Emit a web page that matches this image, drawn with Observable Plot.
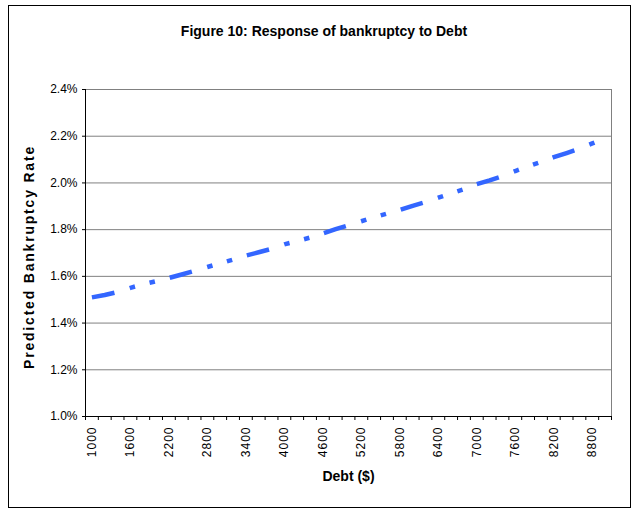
<!DOCTYPE html>
<html>
<head>
<meta charset="utf-8">
<script src="https://cdn.jsdelivr.net/npm/d3@7"></script>
<script src="https://cdn.jsdelivr.net/npm/@observablehq/plot@0.6"></script>
<style>
  html, body { margin: 0; padding: 0; background: #fff; }
  body { width: 636px; height: 510px; position: relative; overflow: hidden;
         font-family: "Liberation Sans", Arial, sans-serif; }
  #frame { position: absolute; left: 8px; top: 5px; width: 623px; height: 503px;
           border: 1px solid #000; box-sizing: border-box; }
  #title { position: absolute; left: 6px; top: 22px; width: 636px; text-align: center;
           font-weight: bold; font-size: 14px; line-height: 18px; color: #000; }
  #chart { position: absolute; left: 0; top: 50px; }
  #chart g[aria-label="x-axis tick label"] text { letter-spacing: 1px; }
</style>
</head>
<body>
<div id="frame"></div>
<div id="title">Figure 10: Response of bankruptcy to Debt</div>
<div id="chart"></div>
<script>
// Debt categories ($)
const debt = [1000, 1200, 1400, 1600, 1800, 2000, 2200, 2400, 2600, 2800,
              3000, 3200, 3400, 3600, 3800, 4000, 4200, 4400, 4600, 4800,
              5000, 5200, 5400, 5600, 5800, 6000, 6200, 6400, 6600, 6800,
              7000, 7200, 7400, 7600, 7800, 8000, 8200, 8400, 8600, 8800, 9000];
// Predicted bankruptcy rate (%)
const rate = [1.510, 1.520, 1.533, 1.551, 1.566, 1.579, 1.593, 1.608, 1.624, 1.640,
              1.656, 1.672, 1.689, 1.703, 1.718, 1.737, 1.751, 1.766, 1.784, 1.802,
              1.819, 1.836, 1.853, 1.869, 1.884, 1.902, 1.918, 1.937, 1.955, 1.973,
              1.995, 2.011, 2.029, 2.051, 2.071, 2.090, 2.110, 2.128, 2.147, 2.169, 2.190];
// Tick labels
const xLabels = [1000, 1600, 2200, 2800, 3400, 4000, 4600, 5200, 5800, 6400, 7000, 7600, 8200, 8800];
const yTicks = [1.0, 1.2, 1.4, 1.6, 1.8, 2.0, 2.2, 2.4];

const data = debt.map((d, i) => ({debt: d, rate: rate[i]}));
const step = debt[1] - debt[0];
const xMin = debt[0] - step / 2, xMax = debt[debt.length - 1] + step / 2;
// category boundaries (tick marks between categories)
const boundaries = d3.range(xMin, xMax + step / 2, step);

const chart = Plot.plot({
  width: 636,
  height: 460,
  marginLeft: 85,
  marginRight: 25,
  marginTop: 39,
  marginBottom: 94,
  style: {fontFamily: '"Liberation Sans", Arial, sans-serif', fontSize: "12px", color: "#000", background: "transparent", overflow: "visible"},
  x: {domain: [xMin, xMax]},
  y: {domain: [yTicks[0], yTicks[yTicks.length - 1]]},
  marks: [
    Plot.gridY(yTicks, {stroke: "#808080", strokeOpacity: 1}),
    Plot.ruleX([xMax], {stroke: "#808080"}),
    Plot.ruleX([xMin], {stroke: "#000"}),
    Plot.ruleY([yTicks[0]], {stroke: "#000"}),
    Plot.axisY(yTicks, {tickSize: 3, tickPadding: 5, tickFormat: d => d.toFixed(1) + "%", label: null, stroke: "#000"}),
    Plot.axisX(boundaries, {tickSize: 4, tickFormat: () => "", label: null, stroke: "#000"}),
    Plot.axisX(xLabels, {tickSize: 0, tickPadding: 10, tickRotate: -90, tickFormat: d => String(d), label: null}),
    Plot.line(data, {x: "debt", y: "rate", stroke: "#3366FF", strokeWidth: 4.5,
                     strokeDasharray: "23,16,5.5,15,5.5,15.3", strokeLinecap: "butt", strokeLinejoin: "round"}),
    Plot.text(["Debt ($)"], {text: d => d, frameAnchor: "bottom", dy: 64, fontWeight: "bold", fontSize: 14, fill: "#000"}),
    Plot.text(["Predicted Bankruptcy Rate"], {text: d => d, frameAnchor: "left", dx: -56, dy: 4, rotate: -90,
                                              textAnchor: "middle", lineAnchor: "middle",
                                              fontWeight: "bold", fontSize: 14, fill: "#000"})
  ]
});
document.getElementById("chart").appendChild(chart);
d3.select(chart).selectAll("text")
  .filter(function() { return this.textContent === "Predicted Bankruptcy Rate"; })
  .attr("letter-spacing", "1.8px");
</script>
</body>
</html>
